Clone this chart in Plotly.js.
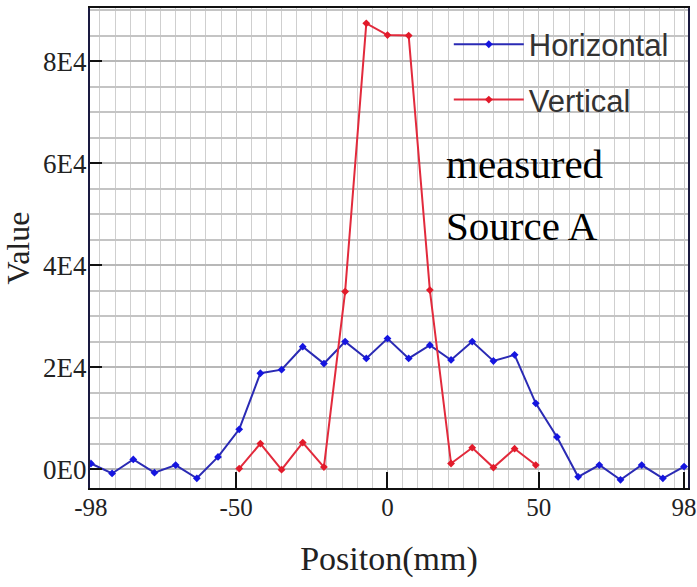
<!DOCTYPE html>
<html>
<head>
<meta charset="utf-8">
<script src="https://cdn.plot.ly/plotly-3.0.1.min.js"></script>
<style>html,body{margin:0;padding:0;background:#fff;}#chart{width:697px;height:587px;}</style>
</head>
<body>
<div id="chart"></div>
<script>
// Positions (mm)
const horizPos = [-98,-91,-84,-77,-70,-63,-56,-49,-42,-35,-28,-21,-14,-7,0,7,14,21,28,35,42,49,56,63,70,77,84,91,98];
const horizVal = [1100,-850,1900,-700,800,-1800,2400,7800,18800,19500,24000,20700,25000,21700,25600,21700,24300,21400,25000,21200,22400,12900,6300,-1500,800,-2100,800,-1800,500];
const vertPos = [-49,-42,-35,-28,-21,-14,-7,0,7,14,21,28,35,42,49];
const vertVal = [100,5000,-100,5200,400,34800,87400,85100,85000,35100,1100,4200,300,4000,800];
const xTickVals = [-98,-50,0,50,98];
const xTickText = ['-98','-50','0','50','98'];
const yTickVals = [0,20000,40000,60000,80000];
const yTickText = ['0E0','2E4','4E4','6E4','8E4'];
const seriesNames = ['Horizontal','Vertical'];
const notes = ['measured','Source A'];

const serif = 'Liberation Serif, Times New Roman, serif';
const traces = [
  {x: horizPos, y: horizVal, name: seriesNames[0], type:'scatter', mode:'lines+markers',
   legendgroup:'h',
   line:{color:'#2a2ab4', width:2}, marker:{color:'#1515e0', size:6, symbol:'diamond'}},
  {x: vertPos, y: vertVal, name: seriesNames[1], type:'scatter', mode:'lines+markers',
   legendgroup:'v',
   line:{color:'#e22a3c', width:2}, marker:{color:'#e21a2a', size:6, symbol:'diamond'}}
];
const layout = {
  width:697, height:587,
  margin:{l:90, r:9, t:8, b:99},
  paper_bgcolor:'#fff', plot_bgcolor:'#fff',
  showlegend:true,
  legend:{x:0.6, xanchor:'left', y:0.98, yanchor:'top', bgcolor:'rgba(0,0,0,0)',
    font:{family:'Liberation Sans, Arial, sans-serif', size:31, color:'#333'},
    itemwidth:70, tracegroupgap:12, traceorder:'grouped'},
  xaxis:{range:[-98.3,99.3], tickmode:'array', tickvals:xTickVals, ticktext:xTickText,
    ticks:'inside', ticklen:16, tickwidth:2, tickcolor:'#111',
    showline:true, linecolor:'#111', linewidth:2, mirror:true,
    showgrid:true, gridcolor:'#c8c8c8', gridwidth:1, zeroline:false,
    minor:{tickmode:'linear', tick0:0, dtick:5, showgrid:true, gridcolor:'#cfcfcf', gridwidth:1, ticks:''},
    tickfont:{family:serif, size:25, color:'#222'}, ticklabeloverflow:'allow', ticklabelstandoff:-4,
    title:{text:'Positon(mm)', font:{family:serif, size:34, color:'#222'}, standoff:26}},
  yaxis:{range:[-3700,90400], tickmode:'array', tickvals:yTickVals, ticktext:yTickText,
    ticks:'inside', ticklen:12, tickwidth:2, tickcolor:'#111',
    showline:true, linecolor:'#1a1a40', linewidth:2, mirror:true,
    showgrid:true, gridcolor:'#b8b8b8', gridwidth:2, zeroline:false,
    minor:{tickmode:'linear', tick0:0, dtick:5000, showgrid:true, gridcolor:'#c4c4c4', gridwidth:2, ticks:''},
    tickfont:{family:serif, size:27, color:'#222'}, ticklabelstandoff:-4,
    title:{text:'Value', font:{family:serif, size:32, color:'#222'}, standoff:6}},
  annotations:[
    {xref:'paper', yref:'paper', x:0.592, y:0.675, xanchor:'left', yanchor:'middle', showarrow:false,
     text:notes[0], font:{family:serif, size:41, color:'#000'}},
    {xref:'paper', yref:'paper', x:0.592, y:0.545, xanchor:'left', yanchor:'middle', showarrow:false,
     text:notes[1], font:{family:serif, size:41, color:'#000'}}
  ]
};
Plotly.newPlot('chart', traces, layout, {displayModeBar:false, staticPlot:true});
</script>
</body>
</html>
